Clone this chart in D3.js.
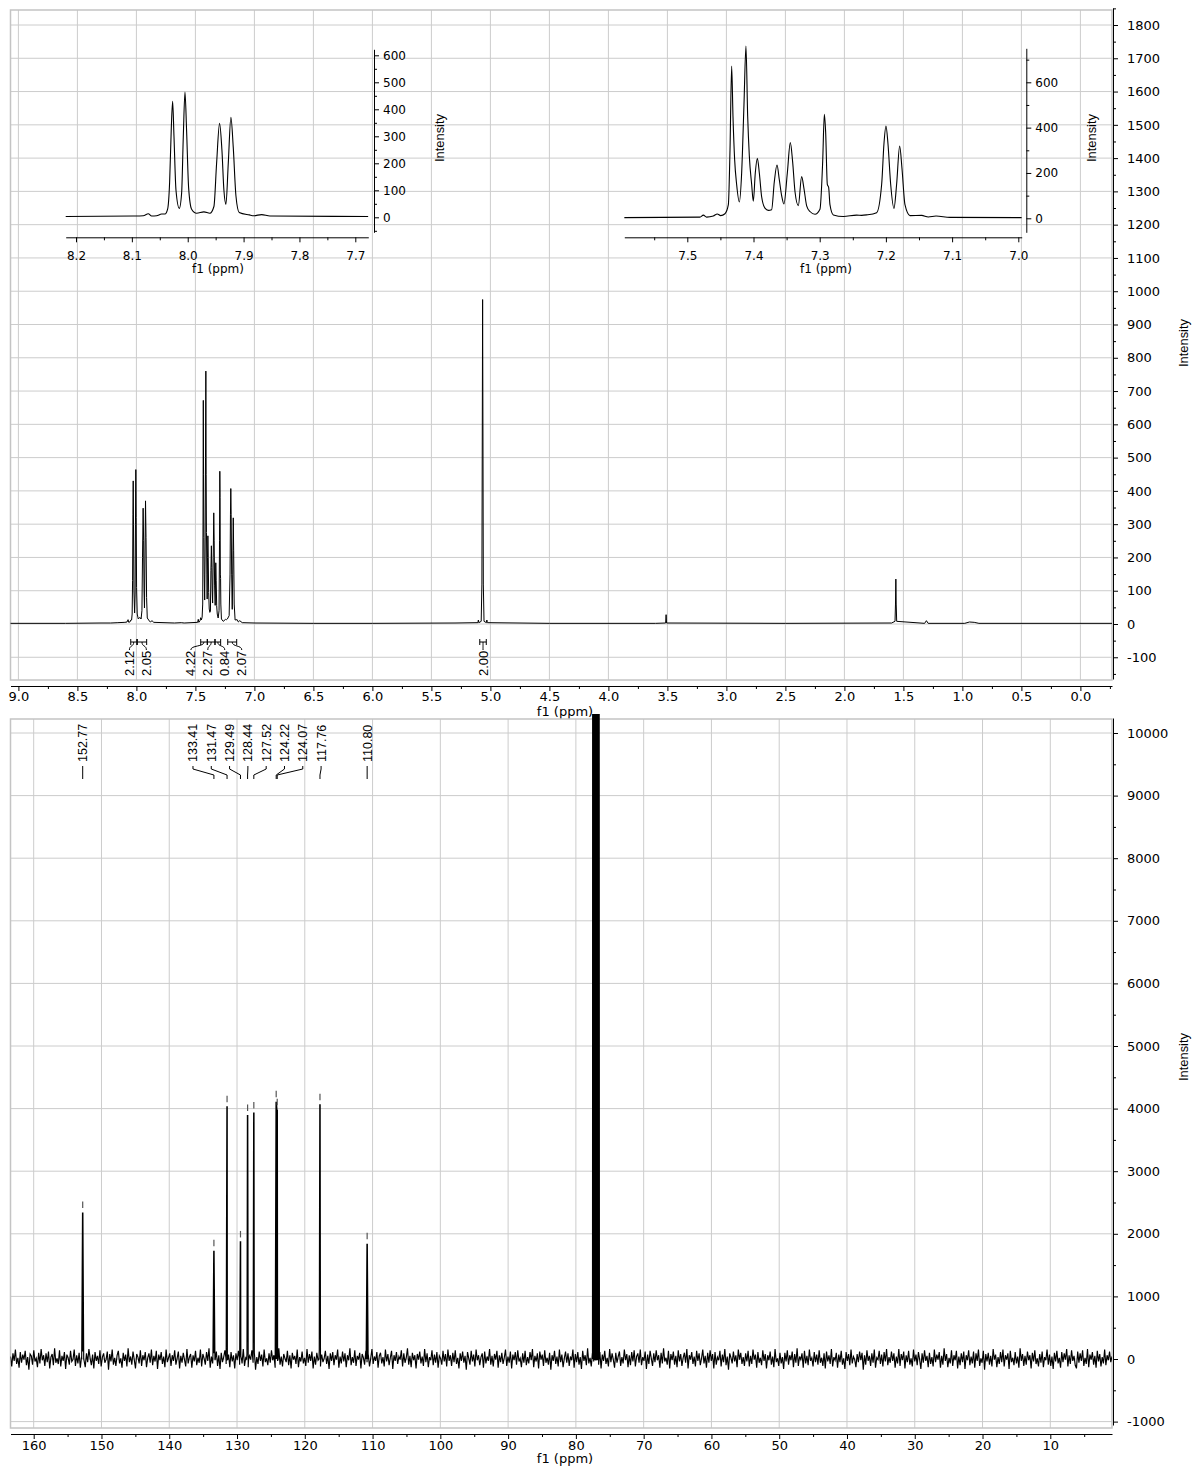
<!DOCTYPE html>
<html><head><meta charset="utf-8">
<script src="https://cdnjs.cloudflare.com/ajax/libs/d3/7.8.5/d3.min.js"></script>
<style>
body{margin:0;background:#fff}
svg{display:block}
</style></head>
<body><svg id="c" width="1192" height="1467"></svg>
<script>
// ---------------- DATA ----------------
// 1H spectrum: aromatic region A (ppm, intensity)
const h1GroupA = [[8.2184,3],[8.157,4],[8.0974,5],[8.0795,6],[8.0706,13],[8.0646,5],[8.0557,6],[8.0467,12],[8.0407,12],[8.036,30],[8.0324,130],[8.0294,330],[8.027,430],[8.0246,300],[8.021,100],[8.0151,33],[8.0109,90],[8.0079,300],[8.0049,464],[8.002,320],[7.9984,110],[7.993,30],[7.9841,15],[7.971,20],[7.9603,15],[7.9531,40],[7.9483,200],[7.943,348],[7.9388,250],[7.9352,100],[7.9316,48],[7.9274,200],[7.9227,370],[7.9185,260],[7.9137,80],[7.9078,18],[7.8898,9],[7.8815,6],[7.8678,10],[7.8529,5],[7.677,3]];
// 1H spectrum: aromatic region B (ppm, intensity)
const h1GroupB = [[7.5951,3],[7.4808,5],[7.4758,14],[7.4708,5],[7.4607,10],[7.4547,19],[7.4496,12],[7.4431,20],[7.438,60],[7.4355,300],[7.433,672],[7.431,450],[7.4285,260],[7.4255,150],[7.4214,72],[7.4179,200],[7.4144,500],[7.4114,760],[7.4088,450],[7.4063,275],[7.4028,150],[7.4003,75],[7.3973,200],[7.3942,265],[7.3912,200],[7.3877,95],[7.3827,45],[7.3776,35],[7.3726,38],[7.3686,160],[7.3645,235],[7.361,170],[7.3575,100],[7.354,63],[7.3489,200],[7.3444,334],[7.3409,250],[7.3373,117],[7.3323,56],[7.3273,184],[7.3237,130],[7.3197,55],[7.3147,30],[7.3071,18],[7.2996,40],[7.2955,250],[7.293,459],[7.291,380],[7.2885,150],[7.2865,137],[7.2845,60],[7.2794,15],[7.2643,8],[7.2442,14],[7.2366,13],[7.2291,15],[7.214,25],[7.2064,150],[7.2029,330],[7.1999,407],[7.1969,330],[7.1928,150],[7.1878,44],[7.1838,150],[7.1792,319],[7.1757,220],[7.1712,60],[7.1636,12],[7.146,13],[7.1359,6],[7.1243,10],[7.1031,4],[6.995,3]];
// 1H spectrum: remaining signals and baseline (ppm, intensity)
const h1Rest = [[9.07,2],[8.6,2],[8.3,3],[7.62,4],[6.5,2],[6.0,2],[5.3,3],[5.106,4],[5.102,12],[5.098,4],[5.078,8],[5.072,120],[5.068,700],[5.066,975],[5.064,700],[5.06,120],[5.054,8],[5.034,4],[5.03,12],[5.026,4],[4.5,2],[3.6,2],[3.515,3],[3.511,28],[3.507,3],[2.5,2],[1.6,3],[1.571,8],[1.567,60],[1.564,135],[1.561,60],[1.557,8],[1.32,2],[1.305,10],[1.29,2],[0.98,2],[0.94,6],[0.9,5],[0.86,2],[-0.27,2]];
// integrals
const integFrom = [8.048,7.992,7.455,7.399,7.334,7.226,5.09];
const integTo   = [7.997,7.913,7.399,7.334,7.286,7.150,5.035];
const integText = ["2.12","2.05","4.22","2.27","0.84","2.07","2.00"];
// axis ticks
const h1XTicks = [9.0,8.5,8.0,7.5,7.0,6.5,6.0,5.5,5.0,4.5,4.0,3.5,3.0,2.5,2.0,1.5,1.0,0.5,0.0];
const h1YTicks = [-100,0,100,200,300,400,500,600,700,800,900,1000,1100,1200,1300,1400,1500,1600,1700,1800];
const insetATicks = [8.2,8.1,8.0,7.9,7.8,7.7];
const insetAYTicks = [0,100,200,300,400,500,600];
const insetBTicks = [7.5,7.4,7.3,7.2,7.1,7.0];
const insetBYTicks = [0,200,400,600];
const c13XTicks = [160,150,140,130,120,110,100,90,80,70,60,50,40,30,20,10];
const c13YTicks = [-1000,0,1000,2000,3000,4000,5000,6000,7000,8000,9000,10000];
// 13C peaks
const c13Ppm = [152.77,133.41,131.47,129.49,128.44,127.52,124.22,124.07,117.76,110.80];
const c13Height = [2340,1730,4030,1870,3890,3930,4110,3980,4060,1840];
const cdcl3Ppm = [77.36,77.04,76.72];
const cdcl3Height = [30000,31000,29500];
// 13C baseline noise (estimated, left to right)
const c13Noise = [40,-120,90,-30,150,-80,20,-140,110,-60,70,-10,130,-100,30,-170,80,50,-90,140,-40,10,-130,100,-70,160,-20,60,-110,90,
-50,120,-150,30,80,-100,170,-60,10,-80,140,-120,50,-30,110,-160,70,20,-90,130,-40,-10,150,-110,60,-70,100,-140,40,120,
-20,-130,90,-50,160,10,-100,70,-150,110,-30,50,-80,140,-120,30,90,-60,-10,120,-170,80,-40,150,-90,20,-110,60,130,-70,
10,-140,100,-30,70,-120,170,-50,40,-90,120,-10,-150,80,30,-70,140,-110,60,-20,110,-130,20,90,-60,150,-100,50,-40,130,
-160,70,-20,110,-80,40,-130,150,-50,20,90,-110,60,-30,140,-90,10,120,-150,50,-60,100,-10,-120,160,-70,30,80,-140,60,
-40,130,-100,20,-60,150,-120,80,10,-90,110,-30,170,-140,40,-70,90,-20,120,-110,60,-160,100,-50,30,140,-80,-10,70,-130,
110,-40,60,-150,90,-20,130,-90,40,-70,160,-110,20,80,-130,50,-10,140,-60,100,-170,30,-80,120,-30,70,-120,150,-50,10,
-100,90,-60,140,-20,60,-140,110,-30,170,-90,40,-120,80,10,-50,130,-100,60,-150,100,-10,50,-80,150,-130,30,-40,120,-70,
20,-110,160,-60,80,-30,120,-150,40,-90,100,-20,140,-120,70,-50,10,130,-80,50,-160,90,-30,110,-100,60,-10,150,-140,40,
-70,120,-40,90,-130,60,-20,170,-100,30,-60,140,-110,50,-10,100,-150,80,20,-90,130,-50,70,-120,10,160,-80,40,-30,110,
-140,50,100,-70,30,-120,150,-40,80,-100,20,130,-160,60,-30,110,-80,40,-10,140,-120,90,-60,20,170,-90,50,-130,100,-20,
60,-150,80,-10,120,-70,40,-110,160,-50,90,-130,30,-20,140,-100,70,-60,110,-140,50,10,-90,130,-40,80,-120,150,-30,60,
-110,100,-50,140,-80,20,-150,90,-30,120,-60,50,-170,110,10,-90,130,-40,70,-120,150,-20,60,-100,30,90,-140,120,-70,40,
-30,160,-90,50,-120,80,-10,130,-140,60,-50,100,-80,20,150,-110,40,-60,120,-150,70,-20,110,-90,140,-40,10,-130,90,-60,
130,-100,30,-70,110,-20,160,-130,50,-40,90,-150,120,-10,70,-110,140,-60,20,-90,100,-170,60,-30,130,-80,40,-120,150,-50,
70,-130,10,120,-60,90,-110,40,-20,150,-140,80,-50,110,-90,30,-160,130,-30,60,-100,170,-70,20,-120,100,-40,140,-10,50,
-90,110,-150,70,-30,130,-80,20,-120,160,-50,90,-10,-140,100,-60,40,120,-110,30,-70,150,-20,80,-130,60,-100,110,-40,140,
-120,40,90,-60,150,-100,30,-30,120,-160,70,-80,130,10,-110,90,-50,140,-20,60,-140,100,-70,170,-40,20,-90,130,-150,80,
-20,120,-90,50,-130,140,-40,80,-110,20,100,-60,160,-150,60,-10,110,-80,40,-120,130,-30,90,-100,10,150,-70,50,-140,100,
-60,140,-30,80,-150,110,-90,30,-20,130,-120,70,-50,160,-100,40,-170,90,20,-70,120,-40,60,-130,150,-10,100,-80,30,-110,
90,-40,130,-120,50,-80,150,-10,70,-140,110,-60,20,-100,140,-30,80,-150,60,-20,120,-90,40,-130,160,-50,10,-110,100,-70,
30,-160,100,-40,140,-90,60,-20,120,-130,80,-60,170,-110,40,-10,90,-140,130,-70,50,-100,150,-30,20,-120,110,-50,70,-90,
140,-60,20,-110,90,-150,120,-40,60,-80,160,-120,30,-20,100,-140,70,-50,130,-90,10,-160,110,-30,80,-100,150,-70,40,-10,
-130,80,-50,120,-20,100,-170,60,-90,140,-30,50,-110,90,-60,150,-140,20,-10,130,-80,70,-120,110,-40,160,-100,30,-60,120,
-30,90,-140,40,-70,160,-110,80,-20,120,-150,60,-50,130,-90,10,-120,150,-40,70,-100,110,-10,-160,90,-60,140,-30,50,-130,
100,-80,30,-120,150,-50,70,-10,110,-140,50,-90,170,-30,80,-130,20,-70,140,-110,60,-20,130,-150,40,-100,90,-50,120,-160,
60,-20,140,-100,40,-70,120,-140,90,-30,150,-110,10,-60,130,-170,80,-40,100,-90,50,-120,160,-10,70,-130,30,-80,110,-50,
150,-120,60,-10,90,-160,130,-50,20,-100,110,-70,40,-140,170,-30,80,-110,50,-90,120,-20,60,-150,100,-40,140,-80,10,-120,
80,-60,120,-130,30,-20,150,-90,70,-110,40,-160,100,-40,130,-70,20,-140,110,-50,90,-10,160,-120,60,-80,140,-30,50,-100,
-150,120,-60,90,-30,140,-110,20,-80,160,-130,70,-10,110,-90,50,-140,130,-40,80,-120,30,-70,150,-100,60,-20,120,-50,40];

// ---------------- DRAWING ----------------
const svg = d3.select("#c");
const FONT = '"DejaVu Sans", Verdana, sans-serif';
const LAB = '"Liberation Sans", Arial, sans-serif';
const GRID = "#cccccc";
const intFmt = d => String(d);

// ---- top panel geometry
const T = {l:10.5, r:1112, t:10, b:680, ax:686};
const xH = d3.scaleLinear().domain([9,0]).range([18.4,1080.4]);
const yH = d3.scaleLinear().domain([0,1800]).range([624,25]);

const defs = svg.append("defs");
defs.append("clipPath").attr("id","clipT").append("rect").attr("x",T.l).attr("y",T.t).attr("width",T.r-T.l).attr("height",T.b-T.t);

const gT = svg.append("g");
gT.selectAll(".vg").data(h1XTicks).join("line").attr("x1",d=>xH(d)).attr("x2",d=>xH(d)).attr("y1",T.t).attr("y2",T.b).attr("stroke",GRID);
gT.selectAll(".hg").data(h1YTicks).join("line").attr("y1",d=>yH(d)).attr("y2",d=>yH(d)).attr("x1",T.l).attr("x2",T.r).attr("stroke",GRID);
gT.append("rect").attr("x",T.l).attr("y",T.t).attr("width",T.r-T.l).attr("height",T.b-T.t).attr("fill","none").attr("stroke","#c4c4c4").attr("stroke-width",1.5);

function styleAxis(g, size){
  g.attr("font-family",null).attr("font-size",null);
  g.selectAll("text").attr("font-family",FONT).attr("font-size",size).attr("fill","#000");
  g.selectAll("line").attr("stroke","#000");
  g.select(".domain").attr("stroke","#000");
}
function minorAxis(g){
  g.select(".domain").remove(); g.selectAll("line").attr("stroke","#000");
}

// main 1H spectrum
const h1All = h1Rest.concat(h1GroupA, h1GroupB).sort((a,b)=>b[0]-a[0]);
const lineH = d3.line().x(d=>xH(d[0])).y(d=>yH(d[1]));
gT.append("path").attr("d",lineH(h1All)).attr("fill","none").attr("stroke","#000").attr("stroke-width",1).attr("clip-path","url(#clipT)");

// x axis top
const xHax = d3.scaleLinear().domain([xH.invert(T.l),xH.invert(T.r)]).range([T.l,T.r]);
const h1XMinor = h1XTicks.map(t=>t-0.25);
let ga = svg.append("g").attr("transform",`translate(0,${T.ax})`)
  .call(d3.axisBottom(xHax).tickValues(h1XTicks).tickFormat(d3.format(".1f")).tickSize(5).tickSizeOuter(0).tickPadding(1));
styleAxis(ga,13);
let gm = svg.append("g").attr("transform",`translate(0,${T.ax})`)
  .call(d3.axisBottom(xHax).tickValues(h1XMinor).tickFormat("").tickSize(3).tickSizeOuter(0));
minorAxis(gm);
svg.append("text").attr("x",565).attr("y",715.5).attr("text-anchor","middle").attr("font-family",FONT).attr("font-size",13).text("f1 (ppm)");

// y axis top
const yHax = d3.scaleLinear().domain([yH.invert(679),yH.invert(8)]).range([679,8]);
const h1YMinor = [-150].concat(h1YTicks.map(v=>v+50));
ga = svg.append("g").attr("transform","translate(1113,0)")
  .call(d3.axisRight(yHax).tickValues(h1YTicks).tickFormat(intFmt).tickSize(5).tickSizeOuter(0).tickPadding(9));
styleAxis(ga,13);
gm = svg.append("g").attr("transform","translate(1113,0)")
  .call(d3.axisRight(yHax).tickValues(h1YMinor).tickFormat("").tickSize(3).tickSizeOuter(0));
minorAxis(gm);

function intensityLabel(x,y){
  svg.append("text").attr("transform",`translate(${x},${y}) rotate(-90)`).attr("text-anchor","middle").attr("dy","0.35em")
    .attr("font-family",LAB).attr("font-size",13).attr("textLength",48).attr("lengthAdjust","spacingAndGlyphs").text("Intensity");
}
intensityLabel(1183,343);

// integrals
function spread(xs, gap){
  let groups = xs.map(x=>({n:1,sum:x,start:x}));
  let changed = true;
  while(changed){
    changed=false;
    for(let i=0;i<groups.length-1;i++){
      const a=groups[i], b=groups[i+1];
      if(a.start+a.n*gap > b.start){
        const n=a.n+b.n, sum=a.sum+b.sum;
        groups.splice(i,2,{n,sum,start:sum/n-(n-1)*gap/2});
        changed=true; break;
      }
    }
  }
  const out=[]; groups.forEach(g=>{for(let k=0;k<g.n;k++) out.push(g.start+k*gap);});
  return out;
}
const integC = integFrom.map((f,i)=>(xH(f)+xH(integTo[i]))/2);
const integLX = spread(integC, 17);
const gI = svg.append("g");
integFrom.forEach((f,i)=>{
  const x0=xH(f), x1=xH(integTo[i]), c=integC[i], lx=integLX[i], yb=642;
  gI.append("path").attr("d",`M${x0},${yb-3}V${yb+3}M${x0},${yb}H${x1}M${x1},${yb-3}V${yb+3}`).attr("stroke","#000").attr("fill","none").attr("stroke-width",1);
  gI.append("path").attr("d",`M${c},${yb}C${c},${yb+5} ${lx},${yb+3} ${lx},${yb+8}`).attr("stroke","#000").attr("fill","none").attr("stroke-width",1);
  gI.append("text").attr("transform",`translate(${lx},676) rotate(-90)`).attr("dy","0.36em").attr("font-family",LAB).attr("font-size",13).text(integText[i]);
});

// ---- insets
function inset(cfg){
  const g = svg.append("g");
  const x = d3.scaleLinear().domain(cfg.xd).range(cfg.xr);
  const y = d3.scaleLinear().domain([0,600]).range(cfg.yr);
  const ln = d3.line().x(d=>x(d[0])).y(d=>y(d[1])).curve(d3.curveMonotoneX);
  g.append("path").attr("d",ln(cfg.data)).attr("fill","none").attr("stroke","#000").attr("stroke-width",1.1);
  const xa = d3.scaleLinear().domain([x.invert(cfg.x0),x.invert(cfg.x1)]).range([cfg.x0,cfg.x1]);
  let a = g.append("g").attr("transform",`translate(0,${cfg.ay})`)
    .call(d3.axisBottom(xa).tickValues(cfg.ticks).tickFormat(d3.format(".1f")).tickSize(5).tickSizeOuter(0).tickPadding(9));
  styleAxis(a,12);
  let m = g.append("g").attr("transform",`translate(0,${cfg.ay})`)
    .call(d3.axisBottom(xa).tickValues(cfg.ticks.map(t=>t+0.05).filter(t=>xa(t)>=cfg.x0)).tickFormat("").tickSize(3).tickSizeOuter(0));
  minorAxis(m);
  g.append("text").attr("x",cfg.fx).attr("y",272.5).attr("text-anchor","middle").attr("font-family",FONT).attr("font-size",12).text("f1 (ppm)");
  const ya = d3.scaleLinear().domain([y.invert(cfg.yb),y.invert(cfg.yt)]).range([cfg.yb,cfg.yt]);
  a = g.append("g").attr("transform",`translate(${cfg.yx},0)`)
    .call(d3.axisRight(ya).tickValues(cfg.yticks).tickFormat(intFmt).tickSize(5).tickSizeOuter(0).tickPadding(4));
  styleAxis(a,12);
  m = g.append("g").attr("transform",`translate(${cfg.yx},0)`)
    .call(d3.axisRight(ya).tickValues(cfg.yminor).tickFormat("").tickSize(3).tickSizeOuter(0));
  minorAxis(m);
  intensityLabel(cfg.ix,138);
}
inset({data:h1GroupA, xd:[8.2,7.7], xr:[76,355.3], yr:[217.3,55.3], x0:65.7, x1:368.3, ay:237.3,
  ticks:insetATicks, fx:218, yx:374, yt:49.3, yb:232.3, yticks:insetAYTicks, yminor:[-50,50,150,250,350,450,550], ix:439});
inset({data:h1GroupB, xd:[7.5,7.0], xr:[687.3,1018.3], yr:[218.3,82.3], x0:624.3, x1:1021.7, ay:237.3,
  ticks:insetBTicks, fx:826, yx:1026.3, yt:48.3, yb:232.3, yticks:insetBYTicks, yminor:[100,300,500,700], ix:1091});

// ---------------- bottom panel (13C)
const B = {l:10.5, r:1112, t:719, b:1428, ax:1434};
const xC = d3.scaleLinear().domain([160,10]).range([33.7,1050.3]);
const yC = d3.scaleLinear().domain([0,10000]).range([1359,733]);
defs.append("clipPath").attr("id","clipB").append("rect").attr("x",B.l).attr("y",714).attr("width",B.r-B.l).attr("height",B.b-714);

const gB = svg.append("g");
gB.selectAll(".vg").data(c13XTicks).join("line").attr("x1",d=>xC(d)).attr("x2",d=>xC(d)).attr("y1",B.t).attr("y2",B.b).attr("stroke",GRID);
gB.selectAll(".hg").data(c13YTicks).join("line").attr("y1",d=>yC(d)).attr("y2",d=>yC(d)).attr("x1",B.l).attr("x2",B.r).attr("stroke",GRID);
gB.append("rect").attr("x",B.l).attr("y",B.t).attr("width",B.r-B.l).attr("height",B.b-B.t).attr("fill","none").attr("stroke","#c4c4c4").attr("stroke-width",1.5);

// build 13C trace: noise on an even ppm grid, plus peaks
const pL = xC.invert(B.l), pR = xC.invert(B.r);
const step = (pL-pR)/(c13Noise.length-1);
let c13 = c13Noise.map((v,i)=>[pL-i*step, v]);
const addPeak=(p,h)=>{ c13.push([p+0.15,0]); c13.push([p+0.03,h]); c13.push([p-0.03,h]); c13.push([p-0.15,0]); };
c13Ppm.forEach((p,i)=>addPeak(p,c13Height[i]));
cdcl3Ppm.forEach((p,i)=>addPeak(p,cdcl3Height[i]));
c13.sort((a,b)=>b[0]-a[0]);
const lineC = d3.line().x(d=>xC(d[0])).y(d=>yC(d[1]));
gB.append("path").attr("d",lineC(c13)).attr("fill","none").attr("stroke","#000").attr("stroke-width",1.15).attr("clip-path","url(#clipB)");
// solvent triplet drawn heavier (it is saturated and merges into a solid bar)
const solv = [];
cdcl3Ppm.forEach((p,i)=>{ solv.push([p+0.1,0]); solv.push([p,cdcl3Height[i]]); solv.push([p-0.1,0]); });
gB.append("path").attr("d",lineC(solv)).attr("fill","none").attr("stroke","#000").attr("stroke-width",2.4).attr("clip-path","url(#clipB)");

// peak markers
gB.selectAll(".mk").data(c13Ppm).join("line")
  .attr("x1",d=>xC(d)).attr("x2",d=>xC(d))
  .attr("y1",(d,i)=>yC(c13Height[i])-11).attr("y2",(d,i)=>yC(c13Height[i])-4.5)
  .attr("stroke","#555").attr("stroke-width",1.2);

// peak labels
const pkX = c13Ppm.map(p=>xC(p));
const pkLX = spread(pkX, 18.3);
c13Ppm.forEach((p,i)=>{
  const px=pkX[i], lx=pkLX[i];
  gB.append("path").attr("d",`M${lx},766V769L${px},775V779`).attr("fill","none").attr("stroke","#000").attr("stroke-width",1);
  gB.append("text").attr("transform",`translate(${lx},762) rotate(-90)`).attr("dy","0.36em")
    .attr("font-family",LAB).attr("font-size",12.5).text(p.toFixed(2));
});

// axes bottom panel
const xCax = d3.scaleLinear().domain([xC.invert(B.l),xC.invert(B.r)]).range([B.l,B.r]);
ga = svg.append("g").attr("transform",`translate(0,${B.ax})`)
  .call(d3.axisBottom(xCax).tickValues(c13XTicks).tickFormat(intFmt).tickSize(5).tickSizeOuter(0).tickPadding(2));
styleAxis(ga,13);
gm = svg.append("g").attr("transform",`translate(0,${B.ax})`)
  .call(d3.axisBottom(xCax).tickValues(c13XTicks.map(t=>t-5)).tickFormat("").tickSize(3).tickSizeOuter(0));
minorAxis(gm);
svg.append("text").attr("x",565).attr("y",1463).attr("text-anchor","middle").attr("font-family",FONT).attr("font-size",13).text("f1 (ppm)");

const yCax = d3.scaleLinear().domain([yC.invert(1425),yC.invert(718)]).range([1425,718]);
ga = svg.append("g").attr("transform","translate(1113,0)")
  .call(d3.axisRight(yCax).tickValues(c13YTicks).tickFormat(intFmt).tickSize(5).tickSizeOuter(0).tickPadding(9));
styleAxis(ga,13);
gm = svg.append("g").attr("transform","translate(1113,0)")
  .call(d3.axisRight(yCax).tickValues(c13YTicks.slice(0,-1).map(v=>v+500)).tickFormat("").tickSize(3).tickSizeOuter(0));
minorAxis(gm);
intensityLabel(1183,1057);
</script></body></html>
